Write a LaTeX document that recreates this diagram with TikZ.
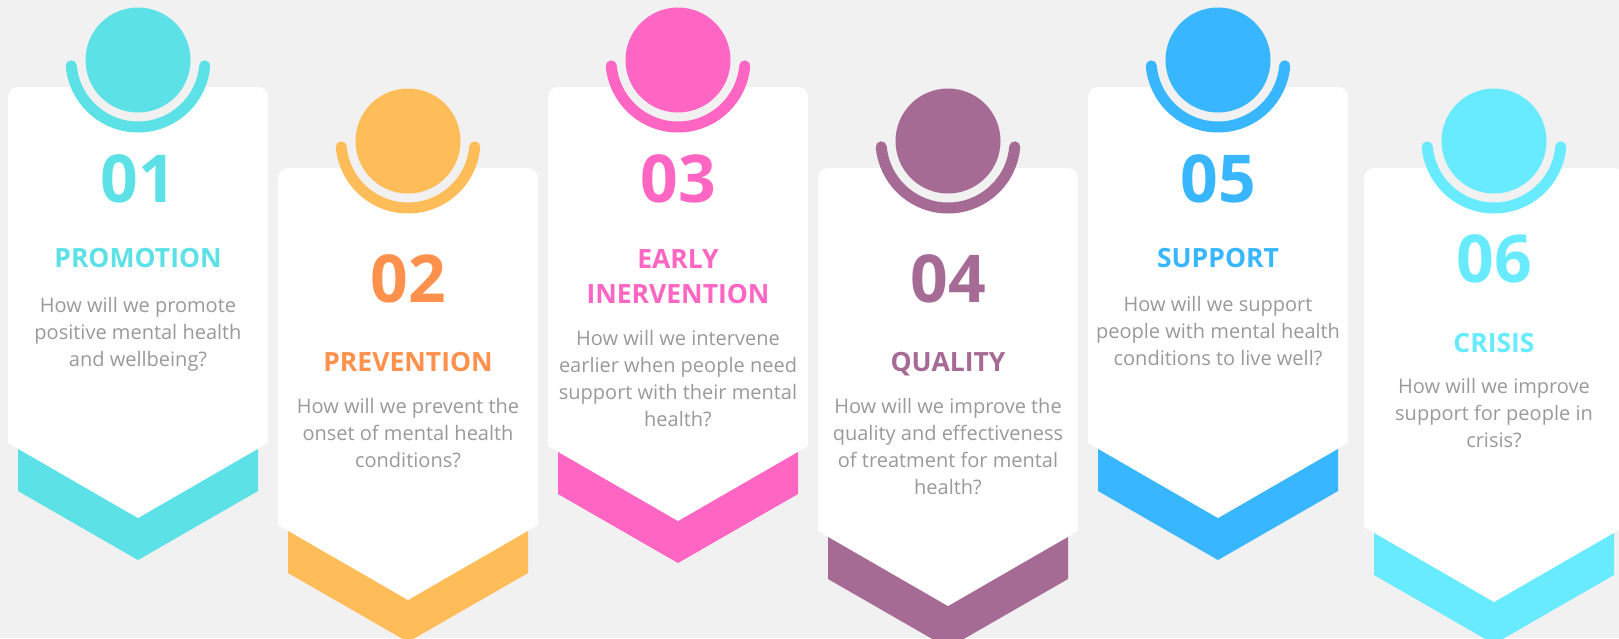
\documentclass[tikz,border=0pt]{standalone}
\usepackage{fontspec}
\setmainfont{Open Sans}
\usetikzlibrary{positioning}
\definecolor{bgpaper}{HTML}{F0F1F0}
\definecolor{cycA}{HTML}{5CE1E6}
\definecolor{cycB}{HTML}{FFBD59}
\definecolor{cycBtext}{HTML}{FF914D}
\definecolor{cycC}{HTML}{FF66C4}
\definecolor{cycD}{HTML}{A66B95}
\definecolor{cycE}{HTML}{38B6FF}
\definecolor{cycF}{HTML}{69EBFF}
\definecolor{bodygrey}{HTML}{9A9A9A}
\tikzstyle{card} = [fill=white]
\tikzset{
	number/.style={anchor=base, inner sep=0pt,
		font=\fontsize{66}{66}\selectfont\bfseries},
	heading/.style={anchor=north, inner sep=0pt, align=center,
		font=\fontsize{26.5}{35}\selectfont\bfseries},
	question/.style={anchor=north, inner sep=0pt, align=center, text=bodygrey,
		font=\fontsize{20}{27}\selectfont},
}

\begin{document}
\begin{tikzpicture}[x=1pt, y=-1pt]

\useasboundingbox (0,0) rectangle (1619,638);
\fill[bgpaper] (0,0) rectangle (1619,638);
\clip (0,0) rectangle (1619,638);

% chevron, card, ring and disc for each step
\foreach \cx/\ytop/\side/\col in {138/87/443/cycA, 408/168/525/cycB, 678/87/446/cycC,
		948/168/531/cycD, 1218/87/443/cycE, 1494/168/527/cycF}
{
	\fill[\col] (\cx-120,\side-40) -- (\cx-120,\side+48) -- (\cx,\side+117)
		-- (\cx+120,\side+48) -- (\cx+120,\side-40) -- cycle;
	\fill[card] (\cx-130,\side) -- (\cx-130,\ytop+10) arc(180:270:10)
		-- (\cx+120,\ytop) arc(270:360:10) -- (\cx+130,\side) -- (\cx,\side+75) -- cycle;
	\fill[bgpaper] (\cx,\ytop-27) circle (62);
	\draw[\col, line width=11pt, line cap=round]
		({\cx+67*cos(5)},{\ytop-27+67*sin(5)}) arc(5:175:67);
	\fill[\col] (\cx,\ytop-27) circle (52.5);
}

\node[number, text=cycA] (num1) at (138,202) {01};
\node[heading, text=cycA] (head1) at (138,248) {PROMOTION};
\node[question] (ask1) at (138,297) {How will we promote\\positive mental health\\and wellbeing?};

\node[number, text=cycBtext] (num2) at (408,302) {02};
\node[heading, text=cycBtext] (head2) at (408,352) {PREVENTION};
\node[question] (ask2) at (408,398) {How will we prevent the\\onset of mental health\\conditions?};

\node[number, text=cycC] (num3) at (678,202) {03};
\node[heading, text=cycC] (head3) at (678,249) {EARLY\\INERVENTION};
\node[question] (ask3) at (678,330) {How will we intervene\\earlier when people need\\support with their mental\\health?};

\node[number, text=cycD] (num4) at (948,302) {04};
\node[heading, text=cycD] (head4) at (948,352) {QUALITY};
\node[question] (ask4) at (948,398) {How will we improve the\\quality and effectiveness\\of treatment for mental\\health?};

\node[number, text=cycE] (num5) at (1218,202) {05};
\node[heading, text=cycE] (head5) at (1218,248) {SUPPORT};
\node[question] (ask5) at (1218,296) {How will we support\\people with mental health\\conditions to live well?};

\node[number, text=cycF] (num6) at (1494,282) {06};
\node[heading, text=cycF] (head6) at (1494,333) {CRISIS};
\node[question] (ask6) at (1494,378) {How will we improve\\support for people in\\crisis?};

\end{tikzpicture}
\end{document}
